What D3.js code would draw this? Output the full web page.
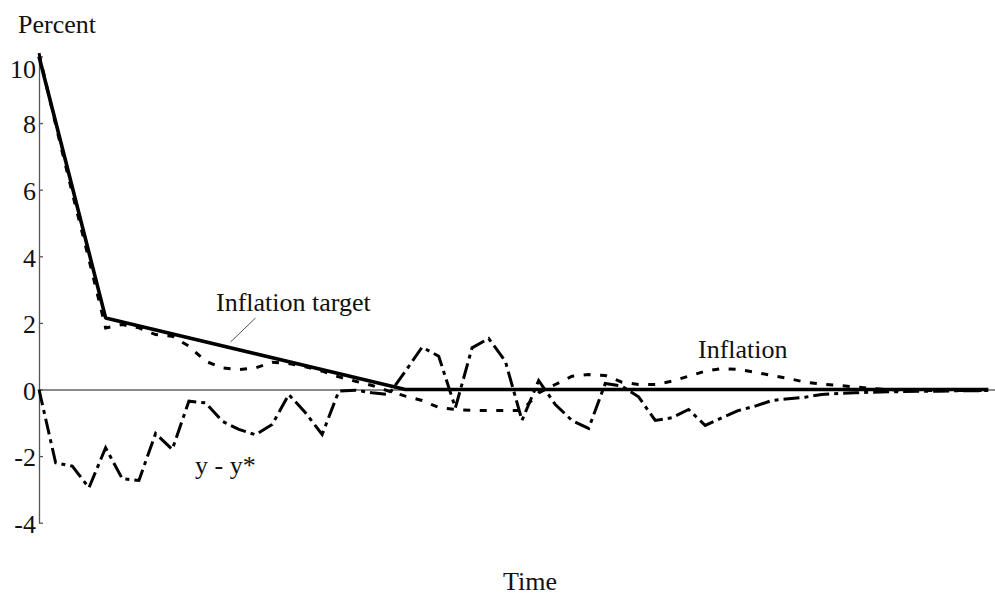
<!DOCTYPE html>
<html>
<head>
<meta charset="utf-8">
<script src="https://cdn.jsdelivr.net/npm/d3@7"></script>
<style>
  body { margin: 0; background: #fff; }
  svg { display: block; }
  text { font-family: "Liberation Serif", "Times New Roman", serif; fill: #111; }
</style>
</head>
<body>
<svg id="chart" width="995" height="607"></svg>
<script>
// Simulated disinflation path, one value per period (t = 0 .. 57)
const periods = d3.range(0, 58);

const inflation = [
  10.1, 7.95, 5.9, 3.9, 1.85, 1.95, 1.85, 1.65, 1.6, 1.3,
  0.85, 0.65, 0.6, 0.65, 0.82, 0.78, 0.68, 0.55, 0.38, 0.25,
  0.12, -0.05, -0.2, -0.33, -0.54, -0.6, -0.63, -0.63, -0.63, -0.63,
  -0.1, 0.15, 0.4, 0.45, 0.42, 0.22, 0.15, 0.15, 0.25, 0.4,
  0.55, 0.63, 0.6, 0.52, 0.42, 0.33, 0.22, 0.16, 0.12, 0.08,
  0.03, 0.0, -0.02, -0.03, -0.03, -0.03, -0.03, -0.03
];

const outputGap = [
  0, -2.2, -2.3, -2.95, -1.75, -2.68, -2.73, -1.32, -1.8, -0.35,
  -0.4, -0.95, -1.2, -1.36, -1.05, -0.15, -0.7, -1.35, -0.05, -0.02,
  -0.1, -0.15, 0.55, 1.27, 1.0, -0.55, 1.25, 1.53, 0.85, -0.93,
  0.27, -0.45, -0.93, -1.17, 0.18, 0.1, -0.22, -0.93, -0.85, -0.6,
  -1.08, -0.85, -0.63, -0.5, -0.33, -0.28, -0.23, -0.15, -0.12, -0.1,
  -0.08, -0.07, -0.06, -0.05, -0.05, -0.04, -0.04, -0.03
];

// Inflation target: break points of the announced glide path
const targetTimes  = [0, 4, 22, 57];
const targetValues = [10, 2.15, 0, 0];

const yTicks = [-4, -2, 0, 2, 4, 6, 8, 10];

const svg = d3.select("#chart");

const x = d3.scaleLinear().domain([0, 57.4]).range([39, 995]);
const y = d3.scaleLinear().domain([-4, 10]).range([522.7, 56.5]);

// Horizontal zero line
svg.append("g")
  .attr("transform", `translate(0,${y(0)})`)
  .call(d3.axisBottom(x).ticks(0).tickSizeOuter(0))
  .call(g => g.select(".domain").attr("stroke", "#666").attr("stroke-width", 1.3));

// Vertical axis with inward ticks, plain hyphen for negatives
svg.append("g")
  .attr("transform", `translate(${x(0)},0)`)
  .call(d3.axisLeft(y).tickValues(yTicks).tickFormat(d => String(d))
        .tickSize(-4).tickSizeOuter(0).tickPadding(3))
  .call(g => g.select(".domain").attr("stroke", "#555").attr("stroke-width", 1.3))
  .call(g => g.selectAll(".tick line").attr("stroke", "#555").attr("stroke-width", 1.3))
  .call(g => g.selectAll(".tick text")
    .attr("font-size", 26)
    .attr("font-family", "Liberation Serif, Times New Roman, serif")
    .attr("fill", "#111")
    .attr("dy", d => d === 10 ? "0.8em" : "0.38em"));

const line = d3.line().x(d => x(d.t)).y(d => y(d.v));

const targetData = targetTimes.map((t, i) => ({ t, v: targetValues[i] }));
const inflData = periods.map((t, i) => ({ t, v: inflation[i] }));
const gapData = periods.map((t, i) => ({ t, v: outputGap[i] }));

// Output gap: dash-dot
svg.append("path").datum(gapData)
  .attr("d", line).attr("fill", "none")
  .attr("stroke", "#000").attr("stroke-width", 3)
  .attr("stroke-dasharray", "16 5 4 5");

// Inflation: short dashes
svg.append("path").datum(inflData)
  .attr("d", line).attr("fill", "none")
  .attr("stroke", "#000").attr("stroke-width", 3)
  .attr("stroke-dasharray", "7 9.5");

// Inflation target: solid
svg.append("path").datum(targetData)
  .attr("d", line).attr("fill", "none")
  .attr("stroke", "#000").attr("stroke-width", 3.6)
  .attr("stroke-linejoin", "round");

// Labels
svg.append("text").attr("x", 18).attr("y", 33).attr("font-size", 26).text("Percent");
svg.append("text").attr("x", 530).attr("y", 590).attr("font-size", 26)
  .attr("text-anchor", "middle").text("Time");

svg.append("text").attr("x", 216).attr("y", 311).attr("font-size", 26).text("Inflation target");
svg.append("line")
  .attr("x1", x(13.0)).attr("y1", 318)
  .attr("x2", x(11.5)).attr("y2", 342)
  .attr("stroke", "#555").attr("stroke-width", 1);

svg.append("text").attr("x", 698).attr("y", 358).attr("font-size", 26).text("Inflation");
svg.append("text").attr("x", 195).attr("y", 474).attr("font-size", 26).text("y - y*");
</script>
</body>
</html>
